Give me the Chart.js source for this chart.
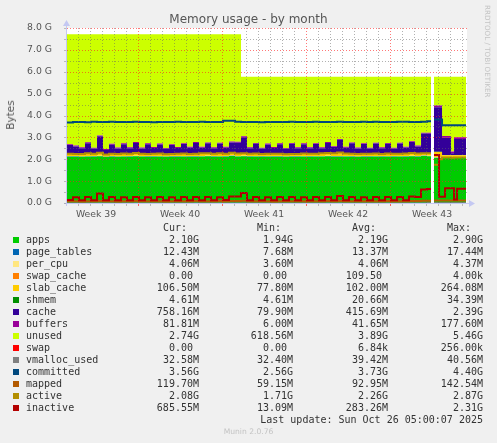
<!DOCTYPE html>
<html>
<head>
<meta charset="utf-8">
<script src="https://cdn.jsdelivr.net/npm/chart.js@4"></script>
<style>
  body { margin: 0; background: #f0f0f0; width: 497px; height: 443px; position: relative; overflow: hidden; font-family: "DejaVu Sans", sans-serif; }
  #grafico { position: absolute; left: 0; top: 0; }
  .t { position: absolute; white-space: pre; }
  #titulo { left: 0; width: 497px; top: 11px; text-align: center; font-size: 12px; line-height: 16px; color: #555; }
  #eixoY { left: 10px; top: 115px; font-size: 10.5px; color: #555; transform: translate(-50%, -50%) rotate(-90deg); }
  #rrd { left: 483px; top: 5px; font-size: 7.2px; color: #c4c4c4; writing-mode: vertical-rl; }
  .leg { font-family: "DejaVu Sans Mono", monospace; font-size: 10px; line-height: 12px; color: #333; }
  .quad { position: absolute; width: 6px; height: 6px; }
  #munin { left: 0; width: 497px; text-align: center; top: 427px; font-size: 7.6px; color: #c4c4c4; }
</style>
</head>
<body>
<canvas id="grafico" width="497" height="225"></canvas>
<div class="t" id="titulo">Memory usage - by month</div>
<div class="t" id="eixoY">Bytes</div>
<div class="t" id="rrd">RRDTOOL / TOBI OETIKER</div>
<div id="legenda"></div>
<div class="t" id="munin">Munin 2.0.76</div>
<script>
// =============================
// DADOS (valores em G, x em dias)
// =============================

const dias = [0,0.5,1,1.5,2,2.5,3,3.5,4,4.5,
  5,5.5,6,6.5,7,7.5,8,8.5,9,9.5,
  10,10.5,11,11.5,12,12.5,13,13.5,14,14.5,
  15,15.5,16,16.5,17,17.5,18,18.5,19,19.5,
  20,20.5,21,21.5,22,22.5,23,23.5,24,24.5,
  25,25.5,26,26.5,27,27.5,28,28.5,29,29.5,
  30,30.33,30.45,30.58,31,31.25,31.5,32,32.25,32.5,33.25];

const semanaInicio = [5.917, 12.917, 19.917, 26.917];
const semanaMeio = [2.42, 9.42, 16.42, 23.42, 30.42];
const semanaRotulos = ['Week 39', 'Week 40', 'Week 41', 'Week 42', 'Week 43'];

const apps = [2.12,2.12,2.11,2.13,2.12,2.14,2.10,2.12,2.11,2.13,
  2.12,2.14,2.13,2.12,2.12,2.13,2.11,2.12,2.12,2.13,
  2.12,2.12,2.13,2.14,2.12,2.13,2.12,2.15,2.13,2.14,
  2.12,2.13,2.12,2.13,2.12,2.12,2.11,2.12,2.12,2.13,
  2.12,2.13,2.13,2.14,2.12,2.12,2.13,2.12,2.11,2.12,
  2.12,2.13,2.12,2.13,2.12,2.13,2.12,2.14,2.12,2.15,
  2.14,2.14,null,2.06,2.06,2.06,2.06,2.06,2.06,2.06,2.06];

const pageTables = [0.012,0.012,0.012,0.012,0.012,0.012,0.012,0.012,0.012,0.012,
  0.012,0.012,0.012,0.012,0.012,0.012,0.012,0.012,0.012,0.012,
  0.012,0.012,0.012,0.012,0.012,0.012,0.012,0.012,0.012,0.012,
  0.012,0.012,0.012,0.012,0.012,0.012,0.012,0.012,0.012,0.012,
  0.012,0.012,0.012,0.012,0.012,0.012,0.012,0.012,0.012,0.012,
  0.012,0.012,0.012,0.012,0.012,0.012,0.012,0.012,0.012,0.012,
  0.012,0.012,null,0.012,0.012,0.012,0.012,0.012,0.012,0.012,0.012];

const perCpu = [0.004,0.004,0.004,0.004,0.004,0.004,0.004,0.004,0.004,0.004,
  0.004,0.004,0.004,0.004,0.004,0.004,0.004,0.004,0.004,0.004,
  0.004,0.004,0.004,0.004,0.004,0.004,0.004,0.004,0.004,0.004,
  0.004,0.004,0.004,0.004,0.004,0.004,0.004,0.004,0.004,0.004,
  0.004,0.004,0.004,0.004,0.004,0.004,0.004,0.004,0.004,0.004,
  0.004,0.004,0.004,0.004,0.004,0.004,0.004,0.004,0.004,0.004,
  0.004,0.004,null,0.004,0.004,0.004,0.004,0.004,0.004,0.004,0.004];

const swapCache = [0,0,0,0,0,0,0,0,0,0,
  0,0,0,0,0,0,0,0,0,0,
  0,0,0,0,0,0,0,0,0,0,
  0,0,0,0,0,0,0,0,0,0,
  0,0,0,0,0,0,0,0,0,0,
  0,0,0,0,0,0,0,0,0,0,
  0,0,null,0,0,0,0,0,0,0,0];

const slabCache = [0.10,0.10,0.11,0.10,0.10,0.12,0.10,0.10,0.10,0.11,
  0.10,0.12,0.10,0.10,0.11,0.10,0.10,0.10,0.11,0.10,
  0.10,0.10,0.11,0.10,0.10,0.12,0.10,0.11,0.10,0.10,
  0.10,0.11,0.10,0.10,0.11,0.10,0.10,0.10,0.10,0.11,
  0.10,0.10,0.11,0.12,0.13,0.14,0.11,0.10,0.10,0.11,
  0.10,0.10,0.10,0.11,0.10,0.10,0.11,0.12,0.10,0.10,
  0.10,0.10,null,0.26,0.26,0.11,0.11,0.11,0.11,0.11,0.11];

const shmem = [0.021,0.021,0.021,0.021,0.021,0.021,0.021,0.021,0.021,0.021,
  0.021,0.021,0.021,0.021,0.021,0.021,0.021,0.021,0.021,0.021,
  0.021,0.021,0.021,0.021,0.021,0.021,0.021,0.021,0.021,0.021,
  0.021,0.021,0.021,0.021,0.021,0.021,0.021,0.021,0.021,0.021,
  0.021,0.021,0.021,0.021,0.021,0.021,0.021,0.021,0.021,0.021,
  0.021,0.021,0.021,0.021,0.021,0.021,0.021,0.021,0.021,0.021,
  0.021,0.021,null,0.005,0.005,0.005,0.005,0.005,0.005,0.005,0.005];

const cache = [0.39,0.33,0.25,0.47,0.23,0.75,0.19,0.41,0.25,0.41,
  0.25,0.45,0.23,0.43,0.25,0.41,0.23,0.39,0.25,0.43,
  0.27,0.49,0.25,0.45,0.25,0.43,0.27,0.47,0.49,0.73,
  0.25,0.43,0.23,0.41,0.25,0.43,0.23,0.45,0.25,0.41,
  0.25,0.43,0.23,0.45,0.27,0.59,0.25,0.47,0.25,0.43,
  0.23,0.45,0.25,0.43,0.23,0.45,0.27,0.49,0.33,0.89,
  0.89,0.89,null,2.04,2.04,0.79,0.79,0.08,0.74,0.74,0.74];

const buffers = [0.04,0.04,0.04,0.04,0.04,0.04,0.04,0.04,0.04,0.04,
  0.04,0.04,0.04,0.04,0.04,0.04,0.04,0.04,0.04,0.04,
  0.04,0.04,0.04,0.04,0.04,0.04,0.04,0.04,0.04,0.04,
  0.04,0.04,0.04,0.04,0.04,0.04,0.04,0.04,0.04,0.04,
  0.04,0.04,0.04,0.04,0.04,0.04,0.04,0.04,0.04,0.04,
  0.04,0.04,0.04,0.04,0.04,0.04,0.04,0.04,0.04,0.04,
  0.04,0.04,null,0.08,0.08,0.08,0.08,0.08,0.08,0.08,0.08];

const unused = [5.03,5.09,5.17,4.94,5.19,4.63,5.25,5.01,5.18,4.99,
  5.17,4.93,5.18,4.99,5.16,5.00,5.20,5.03,5.16,4.98,
  5.15,4.93,5.15,4.95,5.17,4.96,5.15,4.91,4.92,2.72,
  3.22,3.02,3.24,3.05,3.21,3.04,3.25,3.02,3.22,3.04,
  3.22,3.03,3.22,2.98,3.17,2.84,3.20,3.00,3.23,3.03,
  3.24,3.01,3.22,3.02,3.24,3.01,3.19,2.94,3.14,2.55,
  2.56,2.56,null,1.31,1.31,2.71,2.71,3.42,2.76,2.76,2.76];

const swap = [0,0,0,0,0,0,0,0,0,0,
  0,0,0,0,0,0,0,0,0,0,
  0,0,0,0,0,0,0,0,0,0,
  0,0,0,0,0,0,0,0,0,0,
  0,0,0,0,0,0,0,0,0,0,
  0,0,0,0,0,0,0,0,0,0,
  0,0,null,0,0,0,0,0,0,0,0];

const vmallocUsed = [0.04,0.04,0.04,0.04,0.04,0.04,0.04,0.04,0.04,0.04,
  0.04,0.04,0.04,0.04,0.04,0.04,0.04,0.04,0.04,0.04,
  0.04,0.04,0.04,0.04,0.04,0.04,0.04,0.04,0.04,0.04,
  0.04,0.04,0.04,0.04,0.04,0.04,0.04,0.04,0.04,0.04,
  0.04,0.04,0.04,0.04,0.04,0.04,0.04,0.04,0.04,0.04,
  0.04,0.04,0.04,0.04,0.04,0.04,0.04,0.04,0.04,0.04,
  0.03,0.03,null,0.03,0.03,0.03,0.03,0.03,0.03,0.03,0.03];

const committed = [3.68,3.70,3.70,3.69,3.71,3.70,3.70,3.72,3.70,3.70,
  3.70,3.71,3.70,3.70,3.69,3.70,3.70,3.70,3.71,3.70,
  3.70,3.70,3.71,3.70,3.70,3.70,3.76,3.76,3.72,3.70,
  3.70,3.70,3.69,3.70,3.70,3.70,3.70,3.71,3.70,3.70,
  3.70,3.71,3.70,3.70,3.70,3.72,3.70,3.70,3.70,3.71,
  3.70,3.72,3.70,3.70,3.70,3.72,3.71,3.70,3.70,3.72,
  3.74,3.74,null,3.82,3.82,3.56,3.56,3.56,3.56,3.56,3.56];

const mapped = [0.08,0.08,0.07,0.08,0.08,0.09,0.08,0.08,0.07,0.08,
  0.08,0.09,0.08,0.08,0.08,0.08,0.07,0.08,0.08,0.08,
  0.08,0.09,0.08,0.08,0.08,0.09,0.08,0.09,0.09,0.10,
  0.08,0.08,0.08,0.08,0.07,0.08,0.08,0.08,0.08,0.08,
  0.08,0.08,0.08,0.09,0.08,0.09,0.08,0.08,0.08,0.08,
  0.08,0.08,0.08,0.09,0.08,0.08,0.08,0.09,0.09,0.10,
  0.10,0.10,null,0.11,0.11,0.11,0.11,0.11,0.11,0.11,0.11];

const active = [2.25,2.24,2.24,2.27,2.25,2.30,2.22,2.25,2.24,2.26,
  2.25,2.29,2.25,2.24,2.25,2.26,2.23,2.24,2.25,2.26,
  2.24,2.25,2.27,2.27,2.25,2.28,2.25,2.30,2.26,2.27,
  2.25,2.26,2.24,2.25,2.25,2.25,2.23,2.24,2.24,2.26,
  2.25,2.25,2.27,2.29,2.28,2.31,2.26,2.25,2.24,2.25,
  2.25,2.26,2.24,2.26,2.25,2.25,2.26,2.29,2.26,2.28,
  2.27,2.27,null,1.75,2.00,2.08,2.08,2.07,2.08,2.08,2.08];

const inactive = [0.14,0.26,0.13,0.28,0.13,0.44,0.13,0.27,0.13,0.26,
  0.13,0.27,0.13,0.26,0.13,0.27,0.13,0.26,0.13,0.27,
  0.13,0.28,0.13,0.27,0.13,0.26,0.14,0.30,0.30,0.46,
  0.13,0.27,0.13,0.26,0.13,0.27,0.13,0.27,0.13,0.26,
  0.13,0.27,0.13,0.27,0.13,0.32,0.13,0.27,0.13,0.26,
  0.13,0.27,0.13,0.27,0.13,0.27,0.13,0.30,0.28,0.62,
  0.64,0.64,null,2.19,0.29,0.29,0.67,0.67,0.16,0.65,0.65];

// legenda (texto como no munin)
const legNomes = ['apps','page_tables','per_cpu','swap_cache','slab_cache','shmem','cache','buffers','unused','swap','vmalloc_used','committed','mapped','active','inactive'];
const legCores = ['#00cc00','#0066b3','#ffe680','#ff8000','#ffcc00','#008f00','#330099','#990099','#ccff00','#ff0000','#808080','#00487d','#b35a00','#b38f00','#b30000'];
const legCur = ['2.10G','12.43M','4.06M','0.00 ','106.50M','4.61M','758.16M','81.81M','2.74G','0.00 ','32.58M','3.56G','119.70M','2.08G','685.55M'];
const legMin = ['1.94G','7.68M','3.60M','0.00 ','77.80M','4.61M','79.90M','6.00M','618.56M','0.00 ','32.40M','2.56G','59.15M','1.71G','13.09M'];
const legAvg = ['2.19G','13.37M','4.06M','109.50 ','102.00M','20.66M','415.69M','41.65M','3.89G','6.84k','39.42M','3.73G','92.95M','2.26G','283.26M'];
const legMax = ['2.90G','17.44M','4.37M','4.00k','264.08M','34.39M','2.39G','177.60M','5.46G','256.00k','40.56M','4.40G','142.54M','2.87G','2.31G'];
const ultimaAtualizacao = 'Last update: Sun Oct 26 05:00:07 2025';

// =============================
// GRÁFICO - Chart.js
// =============================

function pontos(valores) {
  return dias.map((d, i) => ({ x: d, y: valores[i] }));
}

function cor(nome) {
  return legCores[legNomes.indexOf(nome)];
}

// 'before' no Chart.js = mantém o valor anterior até o próximo ponto
function linha(nome, valores, largura) {
  return {
    label: nome, data: pontos(valores), stack: 'l_' + nome,
    borderColor: cor(nome), borderWidth: largura, fill: false, stepped: 'before'
  };
}

function area(nome, valores, primeiro) {
  return {
    label: nome, data: pontos(valores), stack: 'mem',
    backgroundColor: cor(nome), borderColor: cor(nome), borderWidth: 0,
    fill: primeiro ? 'origin' : '-1', stepped: 'before'
  };
}

// linhas primeiro (desenhadas por cima), depois a pilha de baixo para cima
const datasets = [
  linha('inactive', inactive, 2),
  linha('active', active, 2),
  linha('mapped', mapped, 2),
  linha('committed', committed, 2),
  linha('vmalloc_used', vmallocUsed, 1),
  area('apps', apps, true),
  area('page_tables', pageTables),
  area('per_cpu', perCpu),
  area('swap_cache', swapCache),
  area('slab_cache', slabCache),
  area('shmem', shmem),
  area('cache', cache),
  area('buffers', buffers),
  area('unused', unused),
  area('swap', swap)
];

const gradeMunin = {
  id: 'gradeMunin',
  beforeDatasetsDraw(chart) {
    const { ctx, chartArea: a } = chart;
    ctx.save();
    ctx.fillStyle = '#ffffff';
    ctx.fillRect(a.left, a.top, a.right - a.left, a.bottom - a.top);
    ctx.restore();
  },
  afterDatasetsDraw(chart) {
    const { ctx, chartArea: a, scales: { x, y } } = chart;
    const vermelho = 'rgba(255,30,30,0.6)', cinza = 'rgba(100,100,100,0.5)';
    ctx.save();
    ctx.lineWidth = 1;
    ctx.setLineDash([1, 2]);
    for (let v = 0.5; v <= y.max + 0.001; v += 0.5) {
      const py = Math.round(y.getPixelForValue(v)) + 0.5;
      ctx.strokeStyle = Number.isInteger(v) ? vermelho : cinza;
      ctx.beginPath(); ctx.moveTo(a.left, py); ctx.lineTo(a.right, py); ctx.stroke();
    }
    const base = semanaInicio[0];
    for (let d = base - Math.floor(base); d < x.max; d += 1) {
      const px = Math.round(x.getPixelForValue(d)) + 0.5;
      const semana = semanaInicio.some(s => Math.abs(s - d) < 0.01);
      ctx.strokeStyle = semana ? vermelho : cinza;
      ctx.beginPath(); ctx.moveTo(px, a.top); ctx.lineTo(px, a.bottom); ctx.stroke();
      ctx.setLineDash([]);
      ctx.strokeStyle = semana ? 'rgba(255,40,40,0.7)' : 'rgba(150,150,150,0.6)';
      ctx.beginPath(); ctx.moveTo(px, a.bottom + 1); ctx.lineTo(px, a.bottom + 3); ctx.stroke();
      ctx.setLineDash([1, 2]);
    }
    ctx.setLineDash([]);
    // eixos com setas
    const eixo = '#c4c8f2';
    ctx.strokeStyle = eixo; ctx.fillStyle = eixo;
    const yb = Math.round(a.bottom) + 0.5, xl = Math.round(a.left) - 0.5;
    ctx.beginPath(); ctx.moveTo(a.left - 3, yb); ctx.lineTo(a.right + 2, yb); ctx.stroke();
    ctx.beginPath(); ctx.moveTo(a.right + 8, yb); ctx.lineTo(a.right + 2, yb - 3.5); ctx.lineTo(a.right + 2, yb + 3.5); ctx.fill();
    ctx.beginPath(); ctx.moveTo(xl, a.bottom + 3); ctx.lineTo(xl, a.top - 2); ctx.stroke();
    ctx.beginPath(); ctx.moveTo(xl, a.top - 8); ctx.lineTo(xl - 3.5, a.top - 2); ctx.lineTo(xl + 3.5, a.top - 2); ctx.fill();
    for (let v = 0; v <= y.max; v += 0.5) {
      const py = Math.round(y.getPixelForValue(v)) + 0.5;
      ctx.strokeStyle = 'rgba(150,150,150,0.6)';
      ctx.beginPath(); ctx.moveTo(a.left - 3, py); ctx.lineTo(a.left - 1, py); ctx.stroke();
    }
    ctx.restore();
  }
};

const fonteEixo = { family: 'DejaVu Sans', size: 9.3 };

new Chart(document.getElementById('grafico'), {
  type: 'line',
  data: { datasets },
  options: {
    responsive: false,
    animation: false,
    events: [],
    layout: { padding: { left: 0, top: 28, right: 30, bottom: 0 } },
    plugins: { legend: { display: false }, tooltip: { enabled: false } },
    elements: { point: { radius: 0 }, line: { tension: 0 } },
    scales: {
      x: {
        type: 'linear', min: 0, max: 33.33,
        grid: { display: false }, border: { display: false },
        afterBuildTicks: s => { s.ticks = semanaMeio.map(v => ({ value: v })); },
        afterFit: s => { s.height = 22; },
        ticks: { autoSkip: false, maxRotation: 0, padding: -2, color: '#555', font: fonteEixo,
          callback: (v, i) => semanaRotulos[i] }
      },
      y: {
        stacked: true, min: 0, max: 8,
        grid: { display: false }, border: { display: false },
        afterFit: s => { s.width = 67; },
        ticks: { stepSize: 1, padding: 7, color: '#555', font: fonteEixo,
          callback: v => v.toFixed(1) + ' G' }
      }
    }
  },
  plugins: [gradeMunin]
});

// =============================
// LEGENDA - tabela em texto
// =============================

const leg = document.getElementById('legenda');
function texto(conteudo, topo, direita, esquerda) {
  const el = document.createElement('div');
  el.className = 't leg';
  el.textContent = conteudo;
  el.style.top = topo + 'px';
  if (direita !== null) el.style.right = (497 - direita) + 'px';
  else el.style.left = esquerda + 'px';
  leg.appendChild(el);
}
const colunas = [199, 293, 388, 483];
['Cur:  ', 'Min:  ', 'Avg:  ', 'Max:  '].forEach((h, j) => texto(h, 222, colunas[j]));
legNomes.forEach((nome, k) => {
  const topo = 233.5 + 12 * k;
  const q = document.createElement('div');
  q.className = 'quad';
  q.style.background = legCores[k];
  q.style.left = '13px';
  q.style.top = (topo + 3) + 'px';
  leg.appendChild(q);
  texto(nome, topo, null, 26);
  texto(legCur[k], topo, colunas[0]);
  texto(legMin[k], topo, colunas[1]);
  texto(legAvg[k], topo, colunas[2]);
  texto(legMax[k], topo, colunas[3]);
});
texto(ultimaAtualizacao, 413.5, colunas[3]);
</script>
</body>
</html>
